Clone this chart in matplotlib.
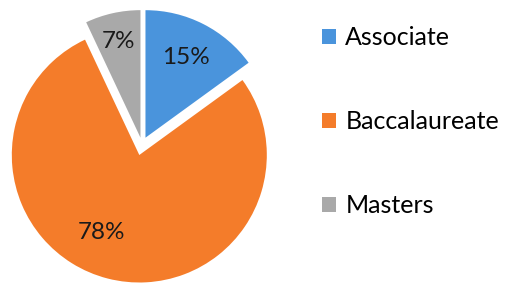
import matplotlib
matplotlib.use("Agg")
import matplotlib.pyplot as plt
from matplotlib.patches import Patch
import numpy as np

categories = ["Associate", "Baccalaureate", "Masters"]
values = [15, 78, 7]
colors = ["#4a94dc", "#f47c2a", "#a9a9a9"]
explode = [0.06, 0.085, 0.055]

plt.rcParams['font.family'] = ['Lato', 'DejaVu Sans']

W, H = 511, 289
fig = plt.figure(figsize=(W / 100, H / 100), dpi=100)
ax = fig.add_axes([0, 0, 1, 1])
R = 127.5
cx, cy = 142.0, 144.5

wedges, texts, autotexts = ax.pie(
    values, colors=colors, explode=explode, startangle=90, counterclock=False,
    radius=1.0, autopct='%d%%', pctdistance=0.72,
    wedgeprops=dict(linewidth=0), textprops=dict(fontsize=17.5, color='#1a1a1a'))

ax.set_xlim(-cx / R, (W - cx) / R)
ax.set_ylim(-(H - cy) / R, cy / R)
ax.set_aspect('equal', adjustable='datalim')
ax.axis('off')

# label radial distance (fraction of radius, measured from true centre) and angular nudge (deg)
label_r = [0.765, 0.76, 0.83]
label_rot = [0.0, -10.0, 0.0]
for w, t, d, rot in zip(wedges, autotexts, label_r, label_rot):
    ang = np.deg2rad((w.theta1 + w.theta2) / 2 + rot)
    t.set_position((d * np.cos(ang), d * np.sin(ang)))

handles = [Patch(facecolor=c, edgecolor='none') for c in colors]
leg = ax.legend(handles, categories, loc='upper left',
                bbox_to_anchor=(322 / W, 1 - 26 / H), bbox_transform=fig.transFigure,
                frameon=False, fontsize=18, handlelength=0.55, handleheight=0.55,
                handletextpad=0.38, labelspacing=2.44, borderpad=0, borderaxespad=0)

fig.savefig("out.png", dpi=100)
